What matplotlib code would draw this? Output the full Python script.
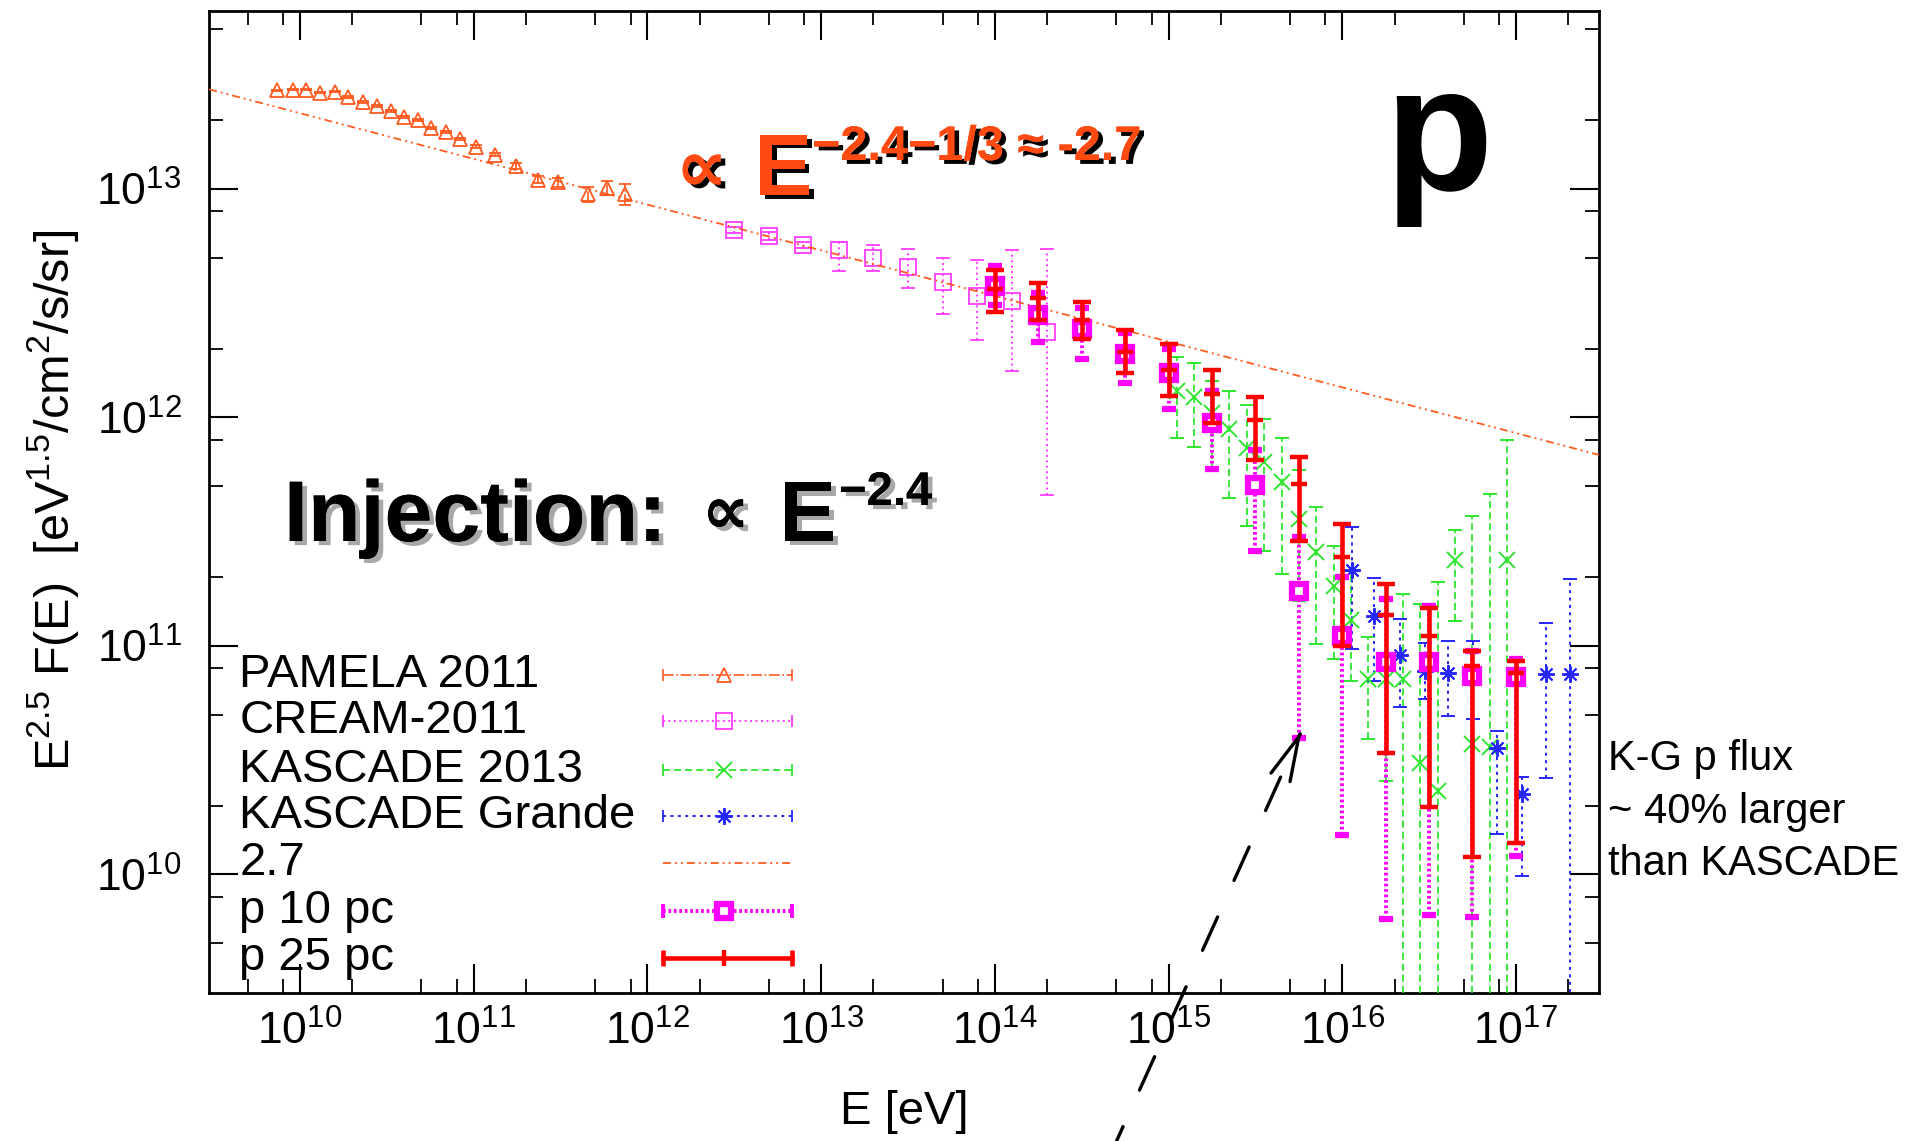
import matplotlib
matplotlib.use("Agg")
import numpy as np
import matplotlib.pyplot as plt
import matplotlib.patheffects as pe
from matplotlib.patches import ConnectionPatch
from matplotlib.ticker import LogLocator, NullFormatter

# ---- data (E in eV, E^2.5 F(E) in eV^1.5/cm^2/s/sr) ----
pamela_E = [7.41e9, 9.08e9, 1.09e10, 1.30e10, 1.59e10, 1.89e10, 2.31e10, 2.76e10,
            3.32e10, 3.95e10, 4.78e10, 5.70e10, 6.90e10, 8.30e10, 1.03e11, 1.32e11,
            1.76e11, 2.34e11, 3.05e11, 4.53e11, 5.82e11, 7.45e11]
pamela_F = [2.70e13, 2.72e13, 2.72e13, 2.64e13, 2.67e13, 2.52e13, 2.40e13, 2.31e13,
            2.20e13, 2.07e13, 2.01e13, 1.85e13, 1.78e13, 1.66e13, 1.53e13, 1.41e13,
            1.26e13, 1.10e13, 1.07e13, 9.5e12, 1.01e13, 9.5e12]
pamela_dF = [2e11, 2e11, 2e11, 2e11, 2e11, 2e11, 2e11, 2e11, 2e11, 2e11, 2e11,
             2e11, 2e11, 2e11, 2e11, 2e11, 4e11, 4e11, 5e11, 7e11, 7e11, 1.0e12]

cream_E = [3.16e12, 5.0e12, 7.9e12, 1.26e13, 2.0e13, 3.16e13, 5.0e13, 7.9e13, 1.26e14, 2.0e14]
cream_F = [6.61e12, 6.24e12, 5.68e12, 5.40e12, 5.00e12, 4.54e12, 3.92e12, 3.40e12, 3.23e12, 2.37e12]
cream_lo = [6.42e12, 5.99e12, 5.51e12, 4.38e12, 4.39e12, 3.67e12, 2.83e12, 2.18e12, 1.60e12, 4.6e11]
cream_hi = [6.81e12, 6.50e12, 5.85e12, 5.84e12, 5.69e12, 5.44e12, 4.99e12, 4.91e12, 5.38e12, 5.47e12]

kascade_E = [1.12e15, 1.41e15, 1.78e15, 2.24e15, 2.82e15, 3.55e15, 4.47e15, 5.62e15, 7.08e15, 8.91e15,
             1.12e16, 1.41e16, 1.78e16, 2.24e16, 2.82e16, 3.55e16, 4.47e16, 5.62e16, 7.08e16, 8.91e16]
kascade_F = [1.30e12, 1.23e12, 1.05e12, 8.9e11, 7.36e11, 6.37e11, 5.20e11, 3.60e11, 2.58e11, 1.83e11,
             1.30e11, 7.15e10, 7.15e10, 7.15e10, 3.06e10, 2.31e10, 2.38e11, 3.72e10, 3.61e10, 2.38e11]
kascade_hi = [1.84e12, 1.73e12, 1.45e12, 1.31e12, 1.13e12, 9.87e11, 8.15e11, 5.86e11, 4.05e11, 2.75e11,
              2.13e11, 1.09e11, 1.57e11, 1.69e11, 1.52e11, 1.91e11, 3.21e11, 3.71e11, 4.62e11, 7.93e11]
kascade_lo = [8.15e11, 7.41e11, 5.86e11, 4.42e11, 3.36e11, 2.61e11, 2.06e11, 1.57e11, 1.02e11, 8.75e10,
              7.0e10, 3.9e10, 2.56e10, 1e9, 1e9, 1e9, 1.29e11, 1e9, 1e9, 1e9]

grande_E = [1.14e16, 1.53e16, 2.15e16, 3.0e16, 4.08e16, 5.66e16, 7.74e16, 1.09e17, 1.49e17, 2.04e17]
grande_F = [2.15e11, 1.35e11, 9.14e10, 7.77e10, 7.64e10, 7.38e10, 3.58e10, 2.24e10, 7.57e10, 7.57e10]
grande_hi = [3.33e11, 1.99e11, 1.31e11, 1.03e11, 1.05e11, 1.05e11, 4.24e10, 2.66e10, 1.26e11, 1.97e11]
grande_lo = [9.7e10, 7.0e10, 5.4e10, 5.86e10, 4.93e10, 4.79e10, 1.51e10, 9.8e9, 2.64e10, 1e9]

line27_E = [3.0e9, 3.0e17]
line27_F = [2.73e13, 6.86e11]

model_E = [1.0e14, 1.78e14, 3.16e14, 5.62e14, 1.0e15, 1.78e15, 3.16e15, 5.62e15,
           1.0e16, 1.78e16, 3.16e16, 5.62e16, 1.0e17]
p10_F = [3.76e12, 2.80e12, 2.43e12, 1.90e12, 1.56e12, 9.5e11, 5.07e11, 1.74e11,
         1.11e11, 8.5e10, 8.5e10, 7.4e10, 7.3e10]
p10_lo = [3.1e12, 2.14e12, 1.81e12, 1.41e12, 1.09e12, 5.96e11, 2.61e11, 3.96e10,
          1.49e10, 6.4e9, 6.65e9, 6.5e9, 1.2e10]
p10_hi = [4.6e12, 3.5e12, 3.0e12, 2.35e12, 2.0e12, 1.3e12, 7.2e11, 3.0e11,
          2.0e11, 1.6e11, 1.5e11, 9.5e10, 8.8e10]
p25_F = [3.64e12, 3.32e12, 2.68e12, 1.93e12, 1.61e12, 1.27e12, 9.7e11, 5.12e11,
         2.45e11, 1.37e11, 1.11e11, 8.2e10, 7.6e10]
p25_lo = [2.90e12, 2.66e12, 2.20e12, 1.56e12, 1.24e12, 9.5e11, 6.5e11, 2.89e11,
          1.0e11, 3.4e10, 1.97e10, 1.19e10, 1.37e10]
p25_hi = [4.42e12, 3.88e12, 3.20e12, 2.41e12, 2.09e12, 1.62e12, 1.23e12, 6.7e11,
          3.42e11, 1.87e11, 1.47e11, 9.5e10, 8.6e10]

# the dashed arrow points at the bottom of the p 10 pc bar near 5.6e15 eV
arrow_tip = (5.85e15, 4.28e10)

legend_labels = ["PAMELA 2011", "CREAM-2011", "KASCADE 2013", "KASCADE Grande",
                 "2.7", "p 10 pc", "p 25 pc"]

# ---- style ----
plt.rcParams['font.family'] = ['Liberation Sans', 'DejaVu Sans']
plt.rcParams['mathtext.fontset'] = 'custom'
plt.rcParams['mathtext.rm'] = 'Liberation Sans'
plt.rcParams['mathtext.it'] = 'Liberation Sans:italic'
plt.rcParams['mathtext.bf'] = 'Liberation Sans:bold'

ORANGE = '#ff5a1f'
CREAM_C = '#ff3cff'
P10_C = '#ff00ff'
RED = '#ff0000'
GREEN = '#2ee62e'
BLUE = '#2626ff'
TXT_OR = '#ff4a12'
DASH27 = (0, (4.4, 2.2, 1.1, 2.2, 1.1, 2.2))

W, H = 1913, 1141
fig = plt.figure(figsize=(W / 100, H / 100), dpi=100)
ax = fig.add_axes([209.3 / W, 1 - 993 / H, (1599 - 209.3) / W, (993 - 11) / H])


def fx(px):
    return px / W


def fy(py):
    return 1 - py / H


def bounds(F, lo, hi):
    return [[f - l for f, l in zip(F, lo)], [h - f for f, h in zip(F, hi)]]


def errplot(E, F, yerr, color, marker, ms, mew, mfc, ls, lw, capsize, capthick, z):
    c = ax.errorbar(E, F, yerr=yerr, fmt='', marker=marker, linestyle='none', color=color,
                    ms=ms, mfc=mfc, mec=color, mew=mew, elinewidth=lw, capsize=capsize,
                    capthick=capthick, zorder=z)
    c[2][0].set_linestyle(ls)
    return c


errplot(pamela_E, pamela_F, pamela_dF, ORANGE, '^', 10, 1.3, 'none', '-.', 1.2, 4, 1.2, 3)
errplot(cream_E, cream_F, bounds(cream_F, cream_lo, cream_hi), CREAM_C, 's', 11.5, 1.3,
        'none', (0, (1, 1.8)), 1.4, 5, 1.3, 3)
errplot(kascade_E, kascade_F, bounds(kascade_F, kascade_lo, kascade_hi), GREEN, 'x', 11, 1.4,
        'none', (0, (3.9, 2.2)), 1.3, 5, 1.3, 3)
errplot(grande_E, grande_F, bounds(grande_F, grande_lo, grande_hi), BLUE, (8, 2, 0), 12, 1.4,
        'none', (0, (1.6, 2.2)), 1.4, 5, 1.3, 3)
ax.plot(line27_E, line27_F, color=ORANGE, lw=1.3, ls=DASH27, zorder=4)
errplot(model_E, p10_F, bounds(p10_F, p10_lo, p10_hi), P10_C, 's', 10, 4.5, 'white',
        (0, (0.7, 0.7)), 2.8, 5, 2.8, 5)
errplot(model_E, p25_F, bounds(p25_F, p25_lo, p25_hi), RED, '_', 12, 3.2, RED,
        '-', 3.3, 6.3, 3.3, 6)

ax.set_xscale('log')
ax.set_yscale('log')
ax.set_xlim(10 ** 9.478, 10 ** 17.478)
ax.set_ylim(10 ** 9.481, 10 ** 13.779)

for axis in (ax.xaxis, ax.yaxis):
    axis.set_major_locator(LogLocator(base=10, subs=(1.0,), numticks=100))
    axis.set_minor_locator(LogLocator(base=10, subs=(2, 5, 8), numticks=100))
    axis.set_minor_formatter(NullFormatter())
ax.tick_params(which='both', direction='in', top=True, right=True, labelsize=32)
ax.tick_params(which='major', length=21, width=1.5)
ax.tick_params(which='minor', length=10, width=1.3)
ax.tick_params(axis='x', pad=13)
ax.tick_params(axis='y', pad=20)
for s in ax.spines.values():
    s.set_linewidth(2)

ax.set_xlabel('E [eV]', fontsize=34)
ax.xaxis.set_label_coords(0.5, -0.099)
ax.set_ylabel(r'E$^{2.5}$ F(E)  [eV$^{1.5}$/cm$^{2}$/s/sr]', fontsize=35)
ax.yaxis.set_label_coords(-0.092, 0.502)

# ---- legend drawn by hand (horizontal error-bar samples) ----
row_y = [0.3242, 0.2767, 0.2274, 0.1800, 0.1324, 0.0833, 0.0357]
x0, xm, x1 = 0.3262, 0.3701, 0.4192
styles = [
    dict(color=ORANGE, ls='-.', lw=1.2, marker='^', ms=10, mew=1.3, mfc='none', cap=8, capw=1.2),
    dict(color=CREAM_C, ls=(0, (1, 1.8)), lw=1.4, marker='s', ms=11.5, mew=1.3, mfc='none', cap=8, capw=1.3),
    dict(color=GREEN, ls=(0, (3.9, 2.2)), lw=1.3, marker='x', ms=11, mew=1.4, mfc='none', cap=8, capw=1.3),
    dict(color=BLUE, ls=(0, (1.6, 2.2)), lw=1.4, marker=(8, 2, 0), ms=12, mew=1.4, mfc='none', cap=8, capw=1.3),
    dict(color=ORANGE, ls=DASH27, lw=1.3, marker=None, ms=0, mew=0, mfc='none', cap=0, capw=0),
    dict(color=P10_C, ls=(0, (0.7, 0.7)), lw=2.8, marker='s', ms=10, mew=4.5, mfc='white', cap=10, capw=2.8),
    dict(color=RED, ls='-', lw=3.3, marker='|', ms=12, mew=3.2, mfc=RED, cap=12, capw=3.3),
]
for label, y, st in zip(legend_labels, row_y, styles):
    ax.text(0.0216, y, label, transform=ax.transAxes, fontsize=34, va='center', ha='left', zorder=8)
    ax.plot([x0, x1], [y, y], transform=ax.transAxes, color=st['color'], ls=st['ls'],
            lw=st['lw'], zorder=8)
    if st['cap']:
        ax.plot([x0, x1], [y, y], transform=ax.transAxes, ls='none', marker='|',
                ms=st['cap'], mew=st['capw'], color=st['color'], zorder=8)
    if st['marker'] is not None:
        ax.plot([xm], [y], transform=ax.transAxes, ls='none', marker=st['marker'],
                ms=st['ms'], mew=st['mew'], mfc=st['mfc'], mec=st['color'], zorder=9)

# ---- slide annotations ----
shadow_k = [pe.withSimplePatchShadow(offset=(3.4, -2.8), shadow_rgbFace='black', alpha=1.0), pe.Normal()]
shadow_g = [pe.withSimplePatchShadow(offset=(3.5, -3), shadow_rgbFace='#a8a8a8', alpha=1.0), pe.Normal()]

fig.text(fx(676), fy(191), '\u221d', fontsize=52, fontweight='bold', color=TXT_OR,
         ha='left', va='baseline', path_effects=shadow_k)
fig.text(fx(754), fy(195), 'E', fontsize=63, fontweight='bold', color=TXT_OR,
         ha='left', va='baseline', path_effects=shadow_k)
fig.text(fx(812), fy(160), '\u22122.4\u22121/3 \u2248 -2.7', fontsize=35, fontweight='bold',
         color=TXT_OR, ha='left', va='baseline', path_effects=shadow_k)

fig.text(fx(284), fy(541), 'Injection:', fontsize=62, fontweight='bold', color='black',
         ha='left', va='baseline', path_effects=shadow_g)
fig.text(fx(702), fy(533), '\u221d', fontsize=48, fontweight='bold', color='black',
         ha='left', va='baseline', path_effects=shadow_g)
fig.text(fx(779), fy(541), 'E', fontsize=62, fontweight='bold', color='black',
         ha='left', va='baseline', path_effects=shadow_g)
fig.text(fx(839), fy(505), '\u22122.4', fontsize=34, fontweight='bold', color='black',
         ha='left', va='baseline', path_effects=shadow_g)

fig.text(fx(1384), fy(190), 'p', fontsize=128, fontweight='bold', color='black',
         ha='left', va='baseline')

for txt, base in zip(["K-G p flux", "~ 40% larger", "than KASCADE"], [770, 823, 875]):
    fig.text(fx(1608), fy(base), txt, fontsize=30, color='black', ha='left', va='baseline')

# dashed arrow from below the figure up to the p 10 pc bar (figure fraction, no wrapping)
tip_px = ax.transData.transform(arrow_tip)
start_px = np.array([1108.0, H - 1160.0])
d = (tip_px - start_px) / np.hypot(*(tip_px - start_px))
to_frac = fig.transFigure.inverted()
start_f = to_frac.transform(start_px)
shaft_end_f = to_frac.transform(tip_px - d * 4)
head_start_f = to_frac.transform(tip_px - d * 6)
tip_f = to_frac.transform(tip_px)
shaft = ConnectionPatch(xyA=tuple(start_f), coordsA=fig.transFigure, xyB=tuple(shaft_end_f),
                        coordsB=fig.transFigure, arrowstyle='-', lw=2.4,
                        ls=(0, (11, 12)), color='black', zorder=10)
head = ConnectionPatch(xyA=tuple(head_start_f), coordsA=fig.transFigure, xyB=tuple(tip_f),
                       coordsB=fig.transFigure, arrowstyle='->,head_length=3.2,head_width=0.75',
                       mutation_scale=10, lw=2.4, color='black', zorder=10)
fig.add_artist(shaft)
fig.add_artist(head)

fig.savefig('out.png', dpi=100)
